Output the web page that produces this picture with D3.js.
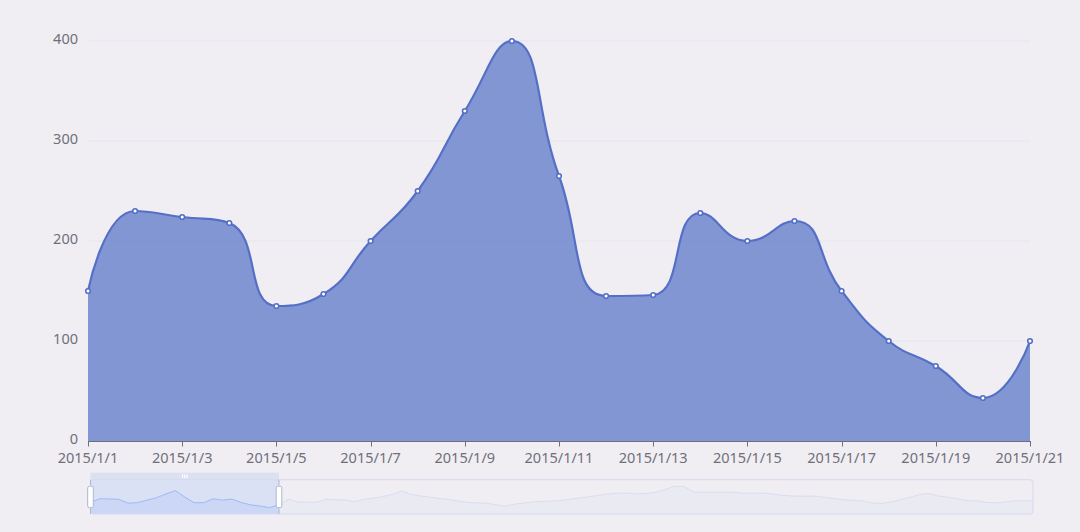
<!DOCTYPE html>
<html><head><meta charset="utf-8">
<script src="https://cdn.jsdelivr.net/npm/d3@7"></script>
<style>html,body{margin:0;padding:0;background:#f1eef3;}svg{display:block;}</style>
</head><body>
<svg id="chart" width="1080" height="532"></svg>
<script>
// ---------- DATA ----------
const categories = [
"2015/1/1","2015/1/2","2015/1/3","2015/1/4","2015/1/5","2015/1/6","2015/1/7","2015/1/8","2015/1/9","2015/1/10",
"2015/1/11","2015/1/12","2015/1/13","2015/1/14","2015/1/15","2015/1/16","2015/1/17","2015/1/18","2015/1/19","2015/1/20",
"2015/1/21","2015/1/22","2015/1/23","2015/1/24","2015/1/25","2015/1/26","2015/1/27","2015/1/28","2015/1/29","2015/1/30",
"2015/1/31","2015/2/1","2015/2/2","2015/2/3","2015/2/4","2015/2/5","2015/2/6","2015/2/7","2015/2/8","2015/2/9",
"2015/2/10","2015/2/11","2015/2/12","2015/2/13","2015/2/14","2015/2/15","2015/2/16","2015/2/17","2015/2/18","2015/2/19",
"2015/2/20","2015/2/21","2015/2/22","2015/2/23","2015/2/24","2015/2/25","2015/2/26","2015/2/27","2015/2/28","2015/3/1",
"2015/3/2","2015/3/3","2015/3/4","2015/3/5","2015/3/6","2015/3/7","2015/3/8","2015/3/9","2015/3/10","2015/3/11",
"2015/3/12","2015/3/13","2015/3/14","2015/3/15","2015/3/16","2015/3/17","2015/3/18","2015/3/19","2015/3/20","2015/3/21",
"2015/3/22","2015/3/23","2015/3/24","2015/3/25","2015/3/26","2015/3/27","2015/3/28","2015/3/29","2015/3/30","2015/3/31",
"2015/4/1","2015/4/2","2015/4/3","2015/4/4","2015/4/5","2015/4/6","2015/4/7","2015/4/8","2015/4/9","2015/4/10",
"2015/4/11"
];
const values = [
150, 230, 224, 218, 135, 147, 200, 250, 330, 400,
265, 145, 146, 228, 200, 220, 150, 100, 75, 43,
100, 218, 159, 159, 155, 218, 206, 206, 167, 215,
241, 274, 319, 393, 323, 286, 261, 233, 214, 179,
152, 142, 134, 103, 72, 115, 140, 161, 173, 183,
196, 220, 251, 274, 303, 329, 348, 348, 329, 338,
368, 426, 494, 484, 368, 368, 368, 368, 368, 348,
348, 348, 338, 309, 290, 284, 284, 284, 255, 231,
206, 195, 183, 134, 134, 163, 212, 261, 319, 338,
286, 261, 226, 187, 187, 154, 142, 158, 187, 187,
187
];
const zoomStartIndex = 0;
const zoomEndIndex = 20;
const yTicks = [0, 100, 200, 300, 400];

// ---------- LAYOUT ----------
const W = 1080, H = 532;
const grid = {left: 88, right: 1030, top: 41, bottom: 441};
const slider = {x0: 90.5, x1: 1033, y0: 479.7, y1: 514};
const lineColor = "#5470c6";
const labelColor = "#6E7079";
const font = "'Noto Sans', 'Liberation Sans', sans-serif";
const fontSize = 14.5;

const svg = d3.select("#chart");
svg.append("rect").attr("width", W).attr("height", H).attr("fill", "#f1eef3");

const visCats = categories.slice(zoomStartIndex, zoomEndIndex + 1);
const visVals = values.slice(zoomStartIndex, zoomEndIndex + 1);

const x = d3.scalePoint().domain(visCats).range([grid.left, grid.right]).padding(0);
const y = d3.scaleLinear().domain([0, 400]).range([grid.bottom, grid.top]);

// grid lines
svg.append("g").selectAll("line").data(yTicks.filter(d => d > 0)).join("line")
  .attr("x1", grid.left).attr("x2", grid.right)
  .attr("y1", d => y(d)).attr("y2", d => y(d))
  .attr("stroke", "#E0E6F1").attr("stroke-width", 1);

// y labels
svg.append("g").selectAll("text").data(yTicks).join("text")
  .attr("x", grid.left - 10).attr("y", d => y(d) - 2).attr("dy", "0.35em")
  .attr("text-anchor", "end").attr("fill", labelColor)
  .attr("font-family", font).attr("font-size", fontSize)
  .text(d => d);

// ECharts-style constrained smooth curve
function smoothPath(pts, smooth, p) {
  const mn = Math.min, mx = Math.max;
  let prevX, prevY, cpx0, cpy0;
  const n = pts.length;
  for (let i = 0; i < n; i++) {
    const px = pts[i][0], py = pts[i][1];
    if (i === 0) { p.moveTo(px, py); cpx0 = px; cpy0 = py; }
    else {
      let ncx, ncy, c1x, c1y;
      if (i + 1 >= n) { ncx = px; ncy = py; c1x = px; c1y = py; }
      else {
        const nx = pts[i + 1][0], ny = pts[i + 1][1];
        let vx = nx - prevX, vy = ny - prevY;
        const l0 = Math.hypot(px - prevX, py - prevY);
        const l1 = Math.hypot(nx - px, ny - py);
        const ratio = l1 / (l1 + l0);
        ncx = px + vx * smooth * ratio;
        ncy = py + vy * smooth * ratio;
        ncx = mn(ncx, mx(nx, px)); ncy = mn(ncy, mx(ny, py));
        ncx = mx(ncx, mn(nx, px)); ncy = mx(ncy, mn(ny, py));
        vx = ncx - px; vy = ncy - py;
        c1x = px - vx * l0 / l1; c1y = py - vy * l0 / l1;
        c1x = mn(c1x, mx(prevX, px)); c1y = mn(c1y, mx(prevY, py));
        c1x = mx(c1x, mn(prevX, px)); c1y = mx(c1y, mn(prevY, py));
        vx = px - c1x; vy = py - c1y;
        ncx = px + vx * l1 / l0; ncy = py + vy * l1 / l0;
      }
      p.bezierCurveTo(cpx0, cpy0, c1x, c1y, px, py);
      cpx0 = ncx; cpy0 = ncy;
    }
    prevX = px; prevY = py;
  }
  return p;
}

const pts = visCats.map((c, i) => [x(c), y(visVals[i])]);

// area
const ap = d3.path();
smoothPath(pts, 0.5, ap);
ap.lineTo(pts[pts.length - 1][0], y(0));
ap.lineTo(pts[0][0], y(0));
ap.closePath();
svg.append("path").attr("d", ap.toString()).attr("fill", lineColor).attr("fill-opacity", 0.7);

// x axis
svg.append("line").attr("x1", grid.left).attr("x2", grid.right)
  .attr("y1", y(0) + 0.5).attr("y2", y(0) + 0.5)
  .attr("stroke", labelColor).attr("stroke-width", 1);
const labelCats = visCats.filter((c, i) => i % 2 === 0);
svg.append("g").selectAll("line").data(labelCats).join("line")
  .attr("x1", d => Math.round(x(d)) + 0.5).attr("x2", d => Math.round(x(d)) + 0.5)
  .attr("y1", y(0)).attr("y2", y(0) + 5.5)
  .attr("stroke", labelColor).attr("stroke-width", 1);
svg.append("g").selectAll("text").data(labelCats).join("text")
  .attr("x", d => x(d)).attr("y", 462.5)
  .attr("text-anchor", "middle").attr("fill", labelColor)
  .attr("font-family", font).attr("font-size", fontSize)
  .text(d => d);

// line
const lp = d3.path();
smoothPath(pts, 0.5, lp);
svg.append("path").attr("d", lp.toString()).attr("fill", "none")
  .attr("stroke", lineColor).attr("stroke-width", 2.2).attr("stroke-linejoin", "round");

// symbols
svg.append("g").selectAll("circle").data(pts).join("circle")
  .attr("cx", d => d[0]).attr("cy", d => d[1]).attr("r", 2.3)
  .attr("fill", "#fff").attr("stroke", lineColor).attr("stroke-width", 1.6);

// ---------- DATA ZOOM SLIDER ----------
const sx = d3.scaleLinear().domain([0, values.length - 1]).range([slider.x0, slider.x1]);
const ext = d3.extent(values);
const off = (ext[1] - ext[0]) * 0.3;
const sy = d3.scaleLinear().domain([ext[0] - off, ext[1] + off]).range([slider.y1, slider.y0]);

const shadowPts = values.map((v, i) => [sx(i), sy(v)]);
const areaGen = d3.area().x(d => d[0]).y0(slider.y1).y1(d => d[1]);
const lineGen = d3.line().x(d => d[0]).y(d => d[1]);

const selX0 = sx(zoomStartIndex), selX1 = sx(zoomEndIndex);

const defs = svg.append("defs");
defs.append("clipPath").attr("id", "selClip").append("rect")
  .attr("x", selX0).attr("y", slider.y0 - 10).attr("width", selX1 - selX0).attr("height", slider.y1 - slider.y0 + 20);
defs.append("clipPath").attr("id", "unselClip").append("rect")
  .attr("x", selX1).attr("y", slider.y0 - 10).attr("width", slider.x1 - selX1 + 5).attr("height", slider.y1 - slider.y0 + 20);

const gUn = svg.append("g").attr("clip-path", "url(#unselClip)");
gUn.append("path").attr("d", areaGen(shadowPts)).attr("fill", "#d2dbee").attr("fill-opacity", 0.2);
gUn.append("path").attr("d", lineGen(shadowPts)).attr("fill", "none").attr("stroke", "#d2dbee").attr("stroke-width", 0.8);

// filler
svg.append("rect").attr("x", selX0).attr("y", slider.y0).attr("width", selX1 - selX0)
  .attr("height", slider.y1 - slider.y0).attr("fill", "rgba(135,175,255,0.2)");

const gSel = svg.append("g").attr("clip-path", "url(#selClip)");
gSel.append("path").attr("d", areaGen(shadowPts)).attr("fill", "#8fb0f7").attr("fill-opacity", 0.2);
gSel.append("path").attr("d", lineGen(shadowPts)).attr("fill", "none").attr("stroke", "#8fb0f7").attr("stroke-width", 0.8);

// border
svg.append("rect").attr("x", slider.x0).attr("y", slider.y0)
  .attr("width", slider.x1 - slider.x0).attr("height", slider.y1 - slider.y0)
  .attr("rx", 3).attr("fill", "none").attr("stroke", "#d2dbee").attr("stroke-width", 1);

// move handle
svg.append("rect").attr("x", selX0).attr("y", slider.y0 - 7).attr("width", selX1 - selX0).attr("height", 7)
  .attr("fill", "#D2DBEE").attr("fill-opacity", 0.7);
const midX = (selX0 + selX1) / 2;
svg.append("g").selectAll("rect").data([-2.2, 0, 2.2]).join("rect")
  .attr("x", d => midX + d - 0.6).attr("y", slider.y0 - 5.5).attr("width", 1.2).attr("height", 4)
  .attr("rx", 0.6).attr("fill", "#fff");

// handles
const hH = slider.y1 - slider.y0;
[selX0, selX1].forEach(hx => {
  const g = svg.append("g");
  g.append("line").attr("x1", hx).attr("x2", hx).attr("y1", slider.y0).attr("y2", slider.y0 + hH * 0.16)
    .attr("stroke", "#ACB8D1").attr("stroke-width", 1);
  g.append("line").attr("x1", hx).attr("x2", hx).attr("y1", slider.y0 + hH * 0.84).attr("y2", slider.y1)
    .attr("stroke", "#ACB8D1").attr("stroke-width", 1);
  g.append("rect").attr("x", hx - 2.8).attr("y", slider.y0 + hH * 0.19).attr("width", 5.6)
    .attr("height", hH * 0.625).attr("rx", 1.7)
    .attr("fill", "#fff").attr("stroke", "#ACB8D1").attr("stroke-width", 1);
});
</script>
</body></html>
